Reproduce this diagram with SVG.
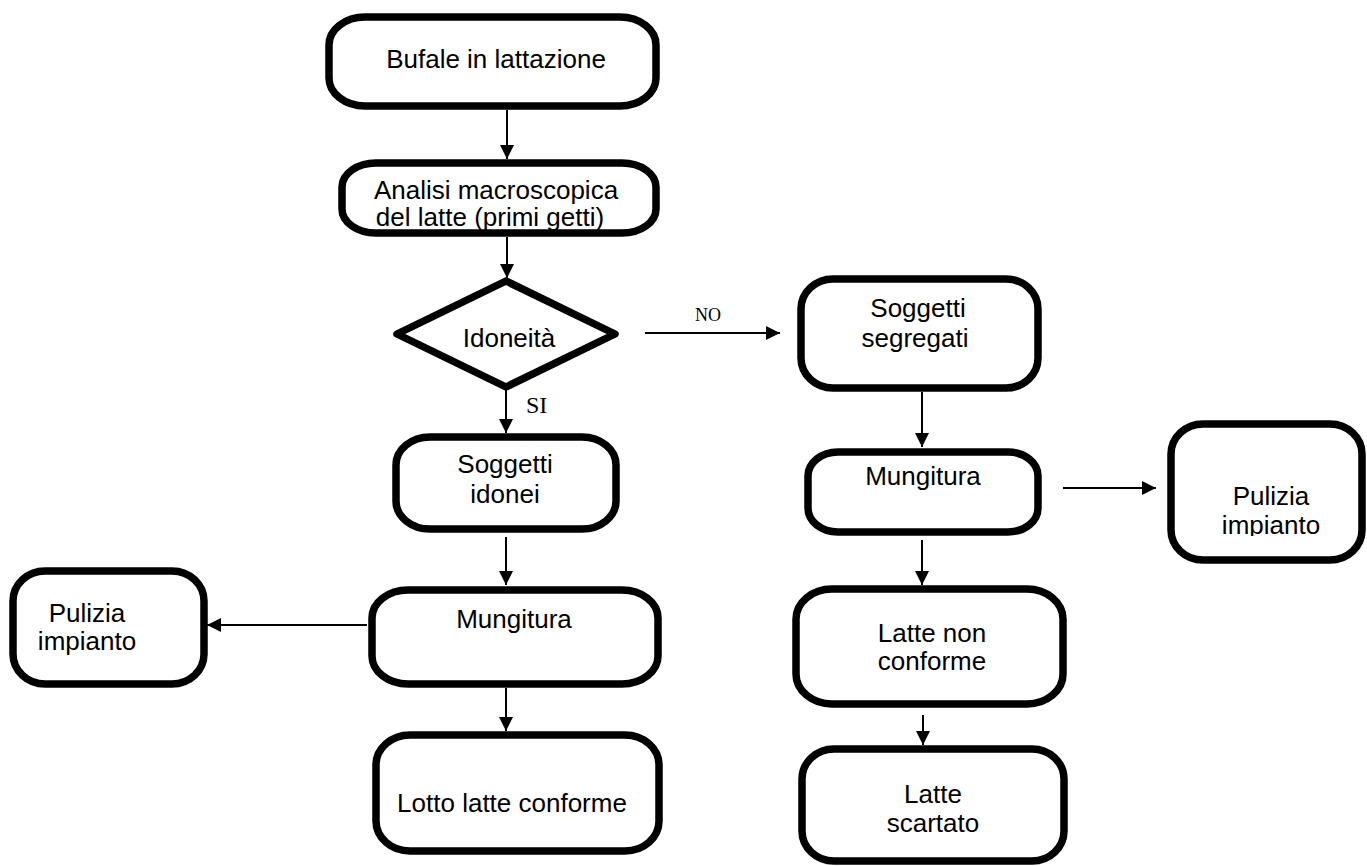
<svg xmlns="http://www.w3.org/2000/svg" width="1367" height="866" viewBox="0 0 1367 866">
<style>
.box{fill:#fff;stroke:#000;stroke-width:7.5;stroke-linejoin:round}
.t{font-family:"Liberation Sans",Arial,sans-serif;font-size:26px;fill:#000;text-anchor:middle}
.lbl{font-family:"Liberation Serif","Times New Roman",serif;fill:#000}
.c{stroke:#000;stroke-width:2;fill:none}
</style>
<defs>
<marker id="ah" markerUnits="userSpaceOnUse" markerWidth="16" markerHeight="16" refX="14" refY="7" orient="auto">
<path d="M0,0 L14,7 L0,14 z" fill="#000"/>
</marker>
<clipPath id="clipR"><rect x="1171" y="424" width="191" height="112"/></clipPath>
</defs>
<rect width="1367" height="866" fill="#fff"/>
<g id="connectors">
<line class="c" x1="507" y1="110" x2="507" y2="159" marker-end="url(#ah)"/>
<line class="c" x1="507" y1="237" x2="507" y2="278" marker-end="url(#ah)"/>
<line class="c" x1="645" y1="333" x2="780" y2="333" marker-end="url(#ah)"/>
<line class="c" x1="506" y1="390" x2="506" y2="433" marker-end="url(#ah)"/>
<line class="c" x1="506" y1="537" x2="506" y2="585" marker-end="url(#ah)"/>
<line class="c" x1="367" y1="625" x2="207" y2="625" marker-end="url(#ah)"/>
<line class="c" x1="506" y1="688" x2="506" y2="731" marker-end="url(#ah)"/>
<line class="c" x1="922" y1="392" x2="922" y2="447" marker-end="url(#ah)"/>
<line class="c" x1="922" y1="540" x2="922" y2="585" marker-end="url(#ah)"/>
<line class="c" x1="1063" y1="488" x2="1156" y2="488" marker-end="url(#ah)"/>
<line class="c" x1="923" y1="715" x2="923" y2="745" marker-end="url(#ah)"/>
<text class="lbl" x="708" y="321" font-size="18" text-anchor="middle">NO</text>
<text class="lbl" x="526" y="413" font-size="24">SI</text>
</g>
<g id="n1"><rect class="box" x="329" y="17" width="327" height="89" rx="36" ry="28"/>
<text class="t" x="496" y="68">Bufale in lattazione</text></g>
<g id="n2"><rect class="box" x="342" y="163" width="314" height="70" rx="34" ry="24"/>
<text class="t" x="496" y="199" font-size="23.5">Analisi macroscopica</text>
<text class="t" x="490" y="226" font-size="23.5">del latte (primi getti)</text></g>
<g id="n3"><polygon class="box" points="397,334 506,281 615,334 506,387"/>
<text class="t" x="509" y="347">Idoneità</text></g>
<g id="n4"><rect class="box" x="396" y="437" width="220" height="92" rx="34" ry="28"/>
<text class="t" x="505" y="473">Soggetti</text>
<text class="t" x="505" y="503">idonei</text></g>
<g id="n5"><rect class="box" x="372" y="590" width="286" height="94" rx="36" ry="28"/>
<text class="t" x="514" y="628">Mungitura</text></g>
<g id="n6"><rect class="box" x="376" y="735" width="283" height="116" rx="34" ry="30"/>
<text class="t" x="512" y="812">Lotto latte conforme</text></g>
<g id="n7"><rect class="box" x="13" y="571" width="191" height="113" rx="32" ry="30"/>
<text class="t" x="87" y="622">Pulizia</text>
<text class="t" x="87" y="650">impianto</text></g>
<g id="n8"><rect class="box" x="801" y="279" width="237" height="109" rx="32" ry="30"/>
<text class="t" x="918" y="317">Soggetti</text>
<text class="t" x="915" y="347">segregati</text></g>
<g id="n9"><rect class="box" x="808" y="452" width="230" height="80" rx="30" ry="24"/>
<text class="t" x="923" y="485">Mungitura</text></g>
<g id="n10"><rect class="box" x="1171" y="424" width="191" height="136" rx="32" ry="30"/>
<g clip-path="url(#clipR)"><text class="t" x="1271" y="505">Pulizia</text>
<text class="t" x="1271" y="534">impianto</text></g></g>
<g id="n11"><rect class="box" x="796" y="589" width="267" height="115" rx="36" ry="30"/>
<text class="t" x="932" y="642">Latte non</text>
<text class="t" x="932" y="670">conforme</text></g>
<g id="n12"><rect class="box" x="802" y="749" width="262" height="112" rx="32" ry="30"/>
<text class="t" x="933" y="803">Latte</text>
<text class="t" x="933" y="832">scartato</text></g>
</svg>
